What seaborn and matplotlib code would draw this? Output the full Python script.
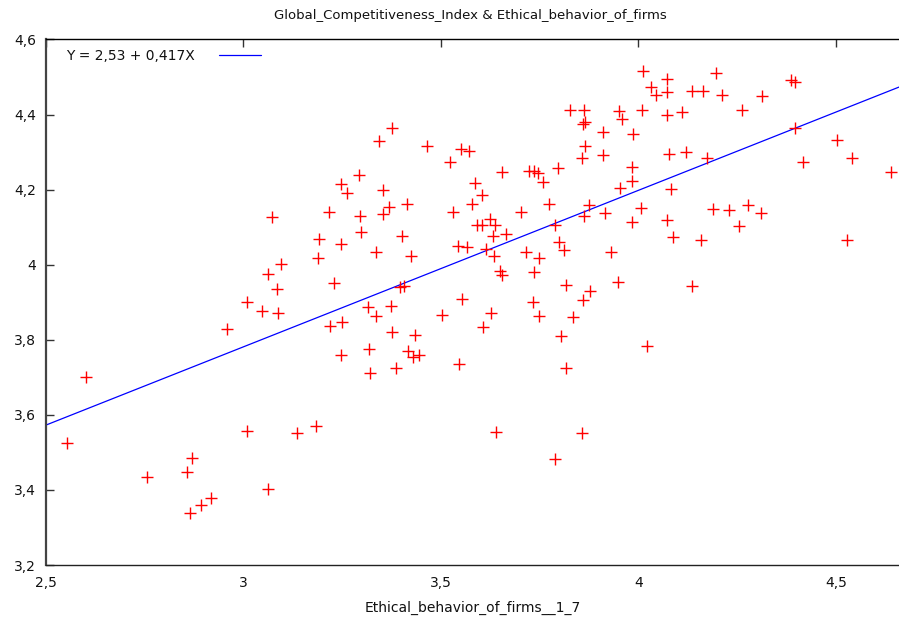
import numpy as np
import pandas as pd
import matplotlib
matplotlib.use("Agg")
import matplotlib.pyplot as plt
import seaborn as sns
from matplotlib.ticker import FuncFormatter, MultipleLocator

ethical = [
    2.553, 2.602, 2.756, 2.857, 2.871, 2.866, 2.893, 2.918, 2.960, 3.009,
    3.009, 3.047, 3.064, 3.064, 3.074, 3.086, 3.089, 3.096, 3.137, 3.185,
    3.190, 3.193, 3.218, 3.220, 3.230, 3.247, 3.248, 3.251, 3.248, 3.263,
    3.294, 3.296, 3.299, 3.316, 3.319, 3.320, 3.335, 3.336, 3.344, 3.353,
    3.353, 3.370, 3.377, 3.374, 3.377, 3.388, 3.398, 3.402, 3.406, 3.415,
    3.417, 3.425, 3.431, 3.436, 3.445, 3.465, 3.503, 3.523, 3.531, 3.544,
    3.545, 3.551, 3.555, 3.567, 3.572, 3.578, 3.588, 3.592, 3.605, 3.604,
    3.607, 3.615, 3.624, 3.626, 3.634, 3.633, 3.640, 3.638, 3.651, 3.654,
    3.655, 3.666, 3.702, 3.716, 3.724, 3.733, 3.735, 3.735, 3.745, 3.750,
    3.749, 3.758, 3.773, 3.789, 3.788, 3.797, 3.800, 3.805, 3.813, 3.816,
    3.816, 3.827, 3.834, 3.858, 3.861, 3.858, 3.862, 3.859, 3.864, 3.862,
    3.865, 3.875, 3.879, 3.912, 3.912, 3.917, 3.932, 3.948, 3.951, 3.955,
    3.959, 3.985, 3.985, 3.985, 3.987, 4.006, 4.010, 4.013, 4.023, 4.033,
    4.044, 4.072, 4.072, 4.073, 4.073, 4.077, 4.084, 4.089, 4.111, 4.120,
    4.135, 4.137, 4.158, 4.165, 4.173, 4.189, 4.196, 4.213, 4.229, 4.255,
    4.262, 4.279, 4.310, 4.314, 4.386, 4.398, 4.396, 4.418, 4.502, 4.529,
    4.542, 4.639,
]
gci = [
    3.526, 3.700, 3.435, 3.447, 3.485, 3.339, 3.360, 3.379, 3.829, 3.902,
    3.558, 3.878, 3.402, 3.976, 4.127, 3.935, 3.871, 4.002, 3.551, 3.571,
    4.017, 4.069, 4.140, 3.837, 3.952, 4.054, 4.216, 3.847, 3.759, 4.191,
    4.239, 4.129, 4.087, 3.887, 3.775, 3.711, 3.864, 4.035, 4.329, 4.199,
    4.136, 4.154, 4.363, 3.889, 3.822, 3.725, 3.941, 4.077, 3.942, 4.163,
    3.769, 4.022, 3.755, 3.813, 3.759, 4.315, 3.867, 4.274, 4.140, 4.051,
    3.736, 4.309, 3.909, 4.046, 4.304, 4.163, 4.218, 4.107, 4.105, 4.187,
    3.834, 4.042, 4.123, 3.871, 4.022, 4.077, 3.555, 4.107, 3.982, 4.247,
    3.973, 4.083, 4.140, 4.035, 4.249, 3.901, 3.981, 4.249, 4.245, 4.019,
    3.864, 4.221, 4.163, 4.105, 3.482, 4.258, 4.061, 3.811, 4.038, 3.725,
    3.947, 4.411, 3.861, 4.283, 3.907, 3.551, 4.413, 4.376, 4.380, 4.129,
    4.315, 4.158, 3.931, 4.353, 4.291, 4.138, 4.034, 3.954, 4.409, 4.205,
    4.389, 4.115, 4.259, 4.222, 4.349, 4.151, 4.413, 4.515, 3.784, 4.474,
    4.453, 4.400, 4.495, 4.459, 4.118, 4.296, 4.202, 4.074, 4.407, 4.301,
    3.944, 4.464, 4.067, 4.464, 4.285, 4.149, 4.511, 4.453, 4.145, 4.104,
    4.411, 4.160, 4.139, 4.449, 4.491, 4.487, 4.365, 4.274, 4.331, 4.065,
    4.285, 4.247,
]
intercept = 2.53
slope = 0.417
legend_label = "Y = 2,53 + 0,417X"
title = "Global_Competitiveness_Index & Ethical_behavior_of_firms"
xlabel = "Ethical_behavior_of_firms__1_7"
xlim = (2.5, 4.66)
ylim = (3.2, 4.6)

df = pd.DataFrame({"x": ethical, "y": gci})

sns.set_theme(style="white")
plt.rcParams["font.family"] = ["DejaVu Sans"]

fig = plt.figure(figsize=(8.99, 6.19), dpi=100)
ax = fig.add_axes([0.0508, 0.0872, 0.9492, 0.849])

sns.scatterplot(data=df, x="x", y="y", marker="+", color="#ff0000", s=80,
                linewidth=1.0, ax=ax, legend=False, zorder=3)

lx = np.array(xlim)
line_df = pd.DataFrame({"x": lx, "y": intercept + slope * lx})
sns.lineplot(data=line_df, x="x", y="y", color="#0000ff", linewidth=0.9,
             ax=ax, label=legend_label, zorder=2)

ax.set_xlim(*xlim)
ax.set_ylim(*ylim)
ax.xaxis.set_major_locator(MultipleLocator(0.5))
ax.yaxis.set_major_locator(MultipleLocator(0.2))
fmt = FuncFormatter(lambda v, p: ("%g" % round(v, 2)).replace(".", ","))
ax.xaxis.set_major_formatter(fmt)
ax.yaxis.set_major_formatter(fmt)

ax.tick_params(axis="both", which="major", direction="in", length=6,
               width=1, labelsize=10, colors="#333333", labelcolor="#111111")
ax.tick_params(axis="x", top=True, pad=8)
ax.tick_params(axis="y", left=True, right=False, pad=7)

for side in ["left", "bottom", "top"]:
    ax.spines[side].set_visible(True)
ax.spines["left"].set_color("#444444")
ax.spines["left"].set_linewidth(1.6)
ax.spines["bottom"].set_color("#222222")
ax.spines["bottom"].set_linewidth(1.0)
ax.spines["top"].set_color("#000000")
ax.spines["top"].set_linewidth(1.0)
ax.spines["right"].set_visible(False)

ax.set_xlabel(xlabel, fontsize=10, labelpad=8, color="#111111")
ax.set_ylabel("")
fig.text(0.523, 0.975, title, ha="center", va="center", fontsize=9.5,
         color="#111111")

leg = ax.legend(loc="upper left", frameon=False, fontsize=10,
                markerfirst=False, handlelength=3.0, handletextpad=1.8,
                borderaxespad=0.3, bbox_to_anchor=(0.012, 1.0))
for t in leg.get_texts():
    t.set_color("#111111")

fig.savefig("out.png", dpi=100)
